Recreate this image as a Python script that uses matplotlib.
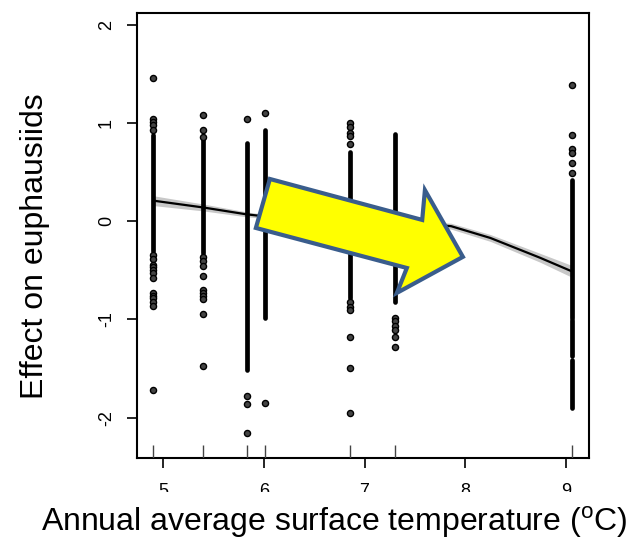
import matplotlib
matplotlib.use("Agg")
import matplotlib.pyplot as plt
from matplotlib.patches import Polygon, Rectangle

plt.rcParams['font.family'] = ['Liberation Sans', 'DejaVu Sans']
plt.rcParams['mathtext.fontset'] = 'custom'
plt.rcParams['mathtext.rm'] = 'Liberation Sans'
plt.rcParams['axes.unicode_minus'] = False

# -----------------------------
# data
# -----------------------------
# temperature of each column of partial residuals (also the rug)
col_x = [4.90, 5.40, 5.83, 6.01, 6.86, 7.30, 9.06]

# dense runs of overlapping points: x, top, bottom
seg_x = [4.90, 5.40, 5.83, 6.01, 6.86, 7.30, 9.06, 9.06, 9.06]
seg_top = [0.88, 0.83, 0.80, 0.93, 0.71, 0.89, 0.42, -1.01, -1.41]
seg_bot = [-0.30, -0.32, -1.51, -0.98, -0.78, -0.82, -0.98, -1.37, -1.90]

# isolated points per column
pts_490 = [1.46, 1.04, 1.01, 0.98, 0.93, -0.34, -0.38, -0.45, -0.47, -0.50,
           -0.53, -0.58, -0.73, -0.76, -0.78, -0.82, -0.86, -1.72]
pts_540 = [1.08, 0.93, 0.86, -0.36, -0.40, -0.46, -0.56, -0.70, -0.73, -0.76,
           -0.79, -0.94, -1.47]
pts_583 = [1.04, -1.78, -1.86, -2.16]
pts_601 = [1.10, -1.85]
pts_686 = [1.00, 0.96, 0.90, 0.87, 0.79, -0.82, -0.87, -0.90, -1.18, -1.49, -1.95]
pts_730 = [-0.98, -1.02, -1.07, -1.11, -1.18, -1.28]
pts_906 = [1.39, 0.88, 0.74, 0.69, 0.59, 0.49]

# fitted smooth and its standard error
fit_x = [4.90, 5.40, 5.83, 6.01, 6.50, 7.00, 7.50, 7.86, 8.25, 8.74, 9.06]
fit_y = [0.21, 0.14, 0.07, 0.05, 0.02, 0.00, -0.02, -0.05, -0.17, -0.37, -0.51]
fit_se = [0.05, 0.035, 0.025, 0.02, 0.02, 0.02, 0.025, 0.03, 0.035, 0.045, 0.06]

xticks = [5, 6, 7, 8, 9]
yticks = [-2, -1, 0, 1, 2]

# -----------------------------
# plot
# -----------------------------
fig = plt.figure(figsize=(6.29, 5.41), dpi=100)
ax = fig.add_axes([0.2178, 0.1534, 0.7186, 0.8226])

lo = [y - s for y, s in zip(fit_y, fit_se)]
hi = [y + s for y, s in zip(fit_y, fit_se)]
ax.fill_between(fit_x, lo, hi, color='#c8c8c8', lw=0, zorder=1)
ax.plot(fit_x, fit_y, color='black', lw=1.6, zorder=2)

ax.vlines(seg_x, seg_bot, seg_top, color='black', lw=3.4, zorder=3,
          capstyle='round')
all_pts = [pts_490, pts_540, pts_583, pts_601, pts_686, pts_730, pts_906]
for x, ys in zip(col_x, all_pts):
    ax.plot([x] * len(ys), ys, 'o', ms=4.4, mfc='#444444', mec='black',
            mew=1.0, zorder=3)

# rug along the bottom
ax.vlines(col_x, 0, 0.03, transform=ax.get_xaxis_transform(),
          color='#444444', lw=1.0, zorder=3)

ax.set_xlim(4.74, 9.23)
ax.set_ylim(-2.41, 2.12)
ax.set_xticks(xticks)
ax.set_yticks(yticks)
ax.tick_params(axis='both', direction='out', length=7, width=1.2,
               labelsize=13)
ax.tick_params(axis='x', pad=11)
ax.tick_params(axis='y', pad=9, labelrotation=90)
for lab in ax.get_yticklabels():
    lab.set_va('center')
for sp in ax.spines.values():
    sp.set_linewidth(1.5)

# the big yellow arrow (axes fraction coords)
arrow = Polygon([(0.294, 0.627), (0.631, 0.535), (0.637, 0.602),
                 (0.721, 0.452), (0.575, 0.371), (0.597, 0.427),
                 (0.263, 0.517)],
                closed=True, transform=ax.transAxes, facecolor='#ffff00',
                edgecolor='#3a5d8c', lw=3, joinstyle='miter', zorder=5)
ax.add_patch(arrow)

# tick labels are cut off in the original
fig.patches.append(Rectangle((0, 0.0665), 1, 0.024, transform=fig.transFigure,
                             facecolor='white', edgecolor='none', zorder=10))

fig.text(334 / 629, 1 - 522 / 541,
         r'Annual average surface temperature ($^{\mathrm{o}}$C)',
         fontsize=23, ha='center', va='center', zorder=11)
fig.text(35 / 629, 1 - 246 / 541, 'Effect on euphausiids', fontsize=23,
         rotation=90, ha='center', va='center', zorder=11)

fig.savefig('out.png', dpi=100)
